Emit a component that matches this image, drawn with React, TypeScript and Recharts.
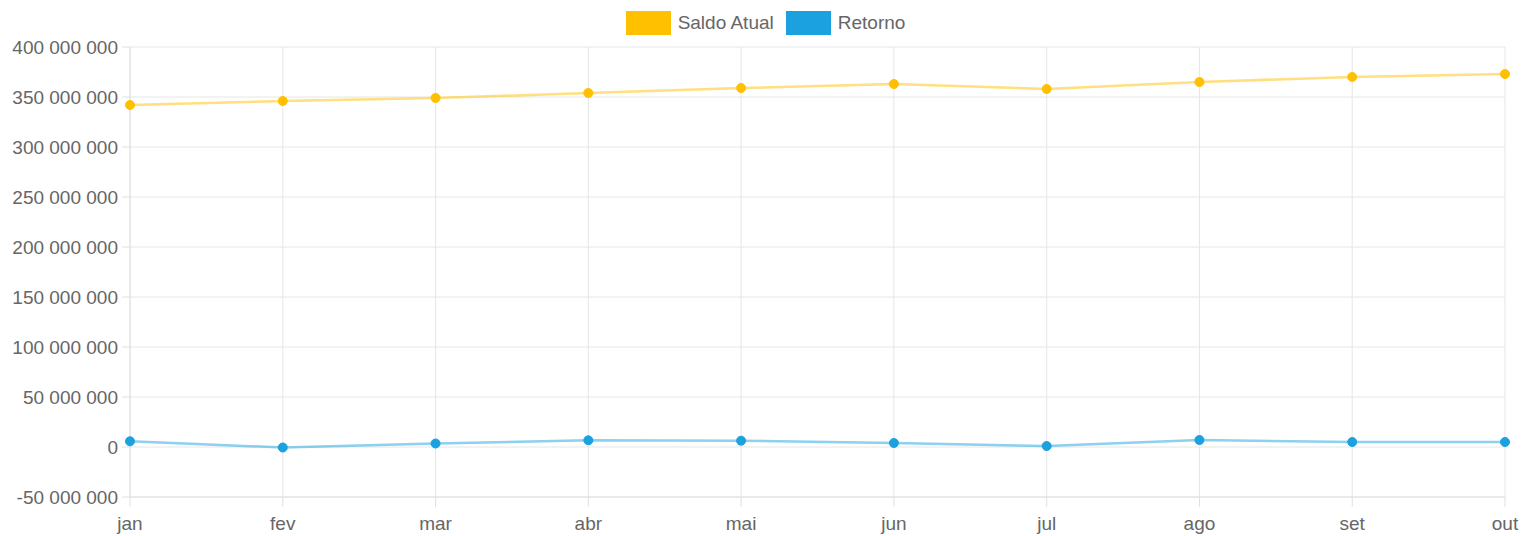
import React from "react";
import { LineChart, Line, XAxis, YAxis, CartesianGrid, Legend } from "recharts";

const months = ["jan", "fev", "mar", "abr", "mai", "jun", "jul", "ago", "set", "out"];
const saldoAtual = [342e6, 346e6, 349e6, 354e6, 359e6, 363e6, 358e6, 365e6, 370e6, 373e6];
const retorno = [5.7e6, -0.5e6, 3.5e6, 6.7e6, 6.3e6, 4e6, 1e6, 7e6, 5e6, 5e6];
const yTicks = [-50e6, 0, 50e6, 100e6, 150e6, 200e6, 250e6, 300e6, 350e6, 400e6];

const SERIES = [
  { key: "saldo", name: "Saldo Atual", color: "#FFC000", line: "rgba(255,192,0,0.5)" },
  { key: "retorno", name: "Retorno", color: "#1BA1DF", line: "rgba(27,161,223,0.5)" },
];

const data = months.map((m, i) => ({ month: m, saldo: saldoAtual[i], retorno: retorno[i] }));

const FONT = "'Liberation Sans', Arial, Helvetica, sans-serif";
const TEXT = "#666";

const fmt = (v: number) => {
  const neg = v < 0;
  const s = Math.abs(v).toString().replace(/\B(?=(\d{3})+(?!\d))/g, " ");
  return (neg ? "-" : "") + s;
};

const LegendContent = () => (
  <div
    style={{
      display: "flex",
      justifyContent: "center",
      alignItems: "center",
      fontFamily: FONT,
      fontSize: 19,
      color: TEXT,
      height: 24,
      paddingLeft: 8,
    }}
  >
    {SERIES.map((s, i) => (
      <div key={s.key} style={{ display: "flex", alignItems: "center", marginLeft: i === 0 ? 0 : 12 }}>
        <div style={{ width: 45, height: 24, background: s.color, marginRight: 7 }} />
        <span>{s.name}</span>
      </div>
    ))}
  </div>
);

export default function App() {
  return (
    <div style={{ background: "#fff", width: 1523, height: 536 }}>
      <style>{`html,body{margin:0;padding:0;overflow:hidden;background:#fff}`}</style>
      <LineChart width={1523} height={536} data={data} margin={{ top: 23, right: 18, bottom: 0, left: 0 }}>
        <CartesianGrid stroke="#e6e6e6" strokeWidth={1} />
        <XAxis
          dataKey="month"
          height={39}
          tickSize={10}
          tickMargin={10}
          stroke="#e0e0e0"
          tick={{ fill: TEXT, fontSize: 19, fontFamily: FONT }}
          interval={0}
        />
        <YAxis
          width={130}
          domain={[-50e6, 400e6]}
          ticks={yTicks}
          tickFormatter={fmt}
          tickSize={8}
          tickMargin={4}
          stroke="#e0e0e0"
          tick={{ fill: TEXT, fontSize: 19, fontFamily: FONT }}
          interval={0}
        />
        <Legend
          verticalAlign="top"
          height={24}
          content={<LegendContent />}
          wrapperStyle={{ top: 11, left: 0, width: 1523 }}
        />
        {SERIES.map((s) => (
          <Line
            key={s.key}
            dataKey={s.key}
            name={s.name}
            type="linear"
            stroke={s.line}
            strokeWidth={2.5}
            dot={{ r: 4.5, fill: s.color, stroke: s.color, strokeWidth: 1 }}
            activeDot={false}
            isAnimationActive={false}
          />
        ))}
      </LineChart>
    </div>
  );
}
